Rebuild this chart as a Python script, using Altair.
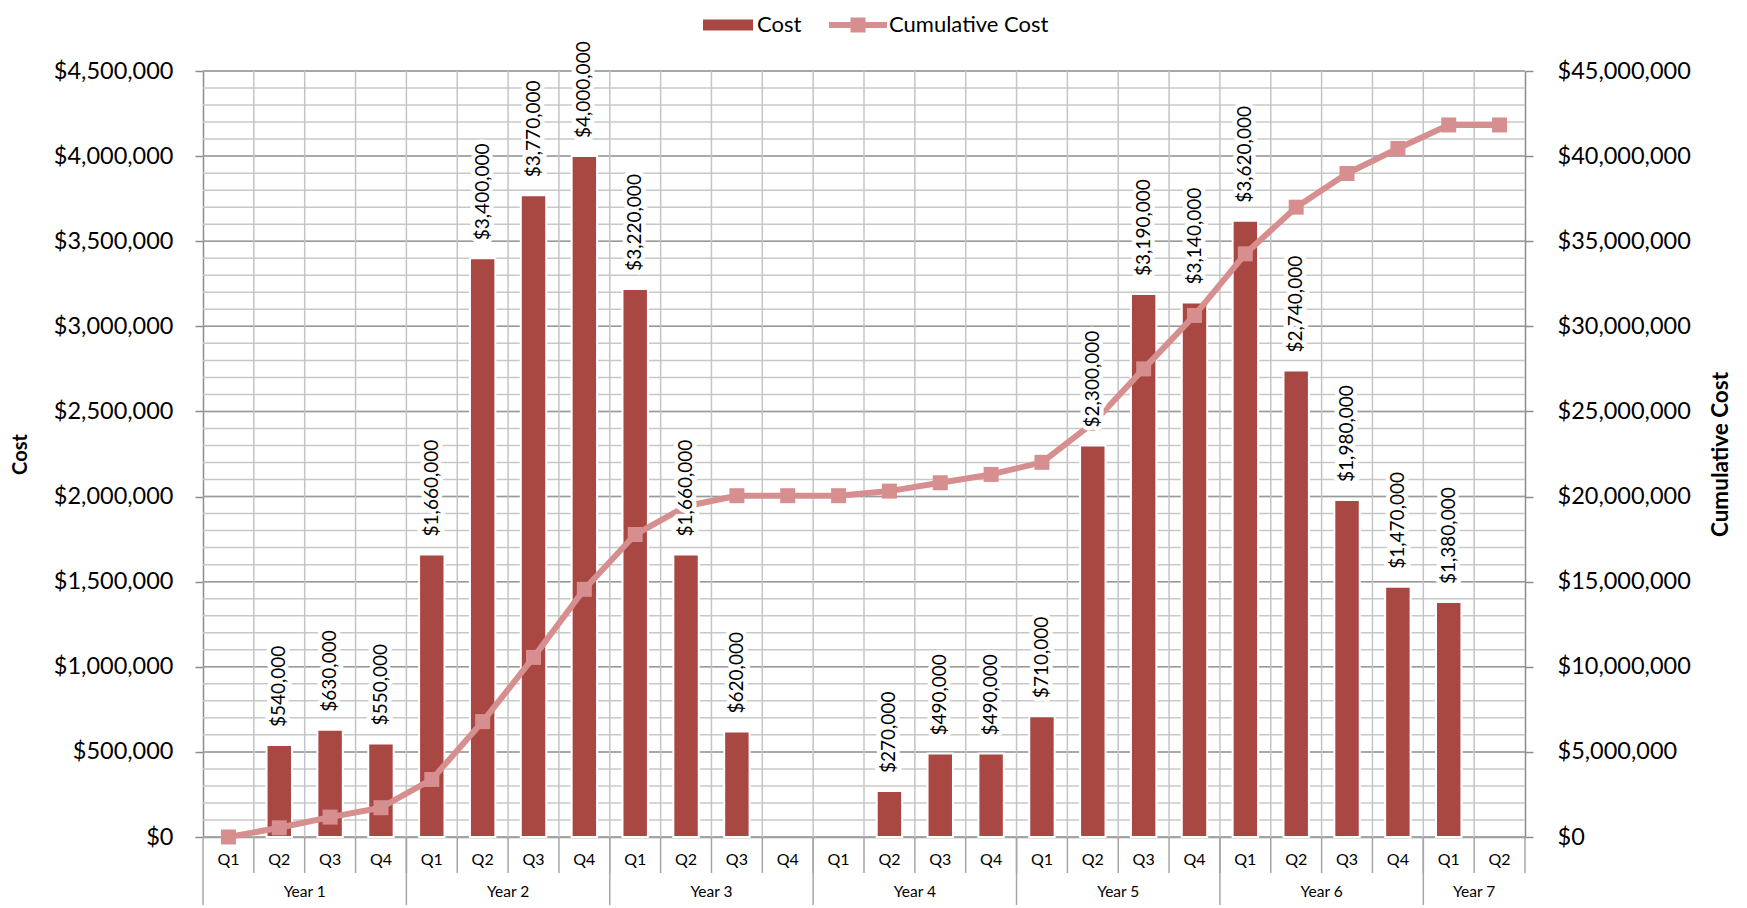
import altair as alt
import pandas as pd

# ---------------- data ----------------
years = (["Year 1"] * 4 + ["Year 2"] * 4 + ["Year 3"] * 4 + ["Year 4"] * 4
         + ["Year 5"] * 4 + ["Year 6"] * 4 + ["Year 7"] * 2)
quarters = ["Q1", "Q2", "Q3", "Q4"] * 6 + ["Q1", "Q2"]
cost = [0, 540000, 630000, 550000,
        1660000, 3400000, 3770000, 4000000,
        3220000, 1660000, 620000, 0,
        0, 270000, 490000, 490000,
        710000, 2300000, 3190000, 3140000,
        3620000, 2740000, 1980000, 1470000,
        1380000, 0]
cumulative = [0, 540000, 1170000, 1720000,
              3380000, 6780000, 10550000, 14550000,
              17770000, 19430000, 20050000, 20050000,
              20050000, 20320000, 20810000, 21300000,
              22010000, 24310000, 27500000, 30640000,
              34260000, 37000000, 38980000, 40450000,
              41830000, 41830000]
year_names = ["Year 1", "Year 2", "Year 3", "Year 4", "Year 5", "Year 6", "Year 7"]
year_center_quarter = ["Q3", "Q3", "Q3", "Q3", "Q3", "Q3", "Q2"]

left_ticks = [0, 500000, 1000000, 1500000, 2000000, 2500000, 3000000, 3500000, 4000000, 4500000]
right_ticks = [0, 5000000, 10000000, 15000000, 20000000, 25000000, 30000000, 35000000, 40000000, 45000000]
minor_grid = [i * 100000 for i in range(46)]

# ---------------- tables ----------------
periods = [f"{y}|{q}" for y, q in zip(years, quarters)]
df = pd.DataFrame({"period": periods, "year": years, "quarter": quarters,
                   "cost": cost, "cumulative": cumulative})
df_bars = df[df["cost"] > 0]
df_sep = df.iloc[1:]
df_ysep = df[df["quarter"] == "Q1"]
df_end = df.iloc[[-1]]
df_years = pd.DataFrame({"year": year_names,
                         "anchor": [f"{y}|{q}" for y, q in zip(year_names, year_center_quarter)]})
df_minor = pd.DataFrame({"v": minor_grid})
df_major = pd.DataFrame({"v": left_ticks})

W, H = 1322, 766
BAR = "#a94743"
PINK = "#d68f8e"
FONT = "Lato"

xscale = alt.Scale(paddingInner=0, paddingOuter=0)
yscale_l = alt.Scale(domain=[0, 4500000], nice=False)
yscale_r = alt.Scale(domain=[0, 45000000], nice=False)

x_axis = alt.Axis(title=None, labelExpr="split(datum.label, '|')[1]", labelAngle=0,
                  labelFontSize=16, labelColor="#000", labelFont=FONT, ticks=False,
                  tickSize=0, labelPadding=14, domainColor="#8c8c8c", domainWidth=1.5,
                  grid=False)


def X(field="period", bp=None):
    kw = {}
    if bp is not None:
        kw["bandPosition"] = bp
    return alt.X(f"{field}:N", sort=periods, scale=xscale, axis=x_axis, **kw)


yl_axis = alt.Axis(title="Cost", values=left_ticks, format="$,.0f", labelFontSize=23.5,
                   labelFont=FONT, labelColor="#000", tickSize=8, tickColor="#8c8c8c",
                   tickWidth=1.5, domainColor="#8c8c8c", domainWidth=1.5, labelPadding=22,
                   grid=False, titleFontSize=20, titleFont=FONT, titleFontWeight="bold",
                   titleColor="#000", titleAngle=270, titleX=-183, titleY=H / 2,
                   titleAlign="center", titleBaseline="middle")
yr_axis = alt.Axis(title="Cumulative Cost", orient="right", values=right_ticks,
                   format="$,.0f", labelFontSize=23.5, labelFont=FONT, labelColor="#000",
                   tickSize=8, tickColor="#8c8c8c", tickWidth=1.5, domainColor="#8c8c8c",
                   domainWidth=1.5, labelPadding=24, grid=False, titleFontSize=22.5,
                   titleFont=FONT, titleFontWeight="bold", titleColor="#000",
                   titleAngle=270, titleX=195, titleY=H / 2, titleAlign="center",
                   titleBaseline="middle")

# grid
hminor = alt.Chart(df_minor).mark_rule(color="#c8c8c8", strokeWidth=1.5).encode(
    y=alt.Y("v:Q", scale=yscale_l, axis=yl_axis))
hmajor = alt.Chart(df_major).mark_rule(color="#9a9a9a", strokeWidth=1.5).encode(
    y=alt.Y("v:Q", scale=yscale_l, axis=yl_axis))
vgrid = alt.Chart(df_sep).mark_rule(color="#c4c4c4", strokeWidth=1.5).encode(
    x=X(bp=0), y=alt.value(0), y2=alt.value(H))

# bars
bars = alt.Chart(df_bars).transform_calculate(series="'Cost'").mark_bar(
    width={"band": 0.5}, stroke="white", strokeWidth=2).encode(
    x=X(),
    y=alt.Y("cost:Q", scale=yscale_l, axis=yl_axis),
    fill=alt.Fill("series:N", scale=alt.Scale(domain=["Cost"], range=[BAR]),
                  legend=alt.Legend(title=None, orient="none", legendX=514, legendY=-57,
                                    symbolType="M-2.5,-0.55H2.5V0.55H-2.5Z", symbolSize=400,
                                    symbolStrokeWidth=0, labelFontSize=22, labelFont=FONT,
                                    labelColor="#000", labelOffset=18, padding=0)))

# category separators below axis
qsep = alt.Chart(df_sep).mark_rule(color="#a6a6a6", strokeWidth=1.5).encode(
    x=X(bp=0), y=alt.value(H), y2=alt.value(H + 36))
ysep = alt.Chart(df_ysep).mark_rule(color="#a6a6a6", strokeWidth=1.5).encode(
    x=X(bp=0), y=alt.value(H), y2=alt.value(H + 90))
endsep = alt.Chart(df_end).mark_rule(color="#a6a6a6", strokeWidth=1.5).encode(
    x=X(bp=1), y=alt.value(H), y2=alt.value(H + 36))
ylabels = alt.Chart(df_years).mark_text(fontSize=15.5, font=FONT, color="#000",
                                        baseline="middle").encode(
    x=X("anchor", bp=0), y=alt.value(H + 55), text="year:N")

left = alt.layer(hminor, hmajor, vgrid, bars, qsep, ysep, endsep, ylabels)

line = alt.Chart(df).transform_calculate(series="'Cumulative Cost'").mark_line(
    strokeWidth=6, strokeJoin="round").encode(
    x=X(),
    y=alt.Y("cumulative:Q", scale=yscale_r, axis=yr_axis),
    stroke=alt.Stroke("series:N", scale=alt.Scale(domain=["Cumulative Cost"], range=[PINK]),
                      legend=alt.Legend(title=None, orient="none", legendX=644, legendY=-57,
                                        symbolType="M-2.9,-0.3H2.9V0.3H-2.9Z M-0.75,-0.75H0.75V0.75H-0.75Z",
                                        symbolSize=400, symbolFillColor=PINK,
                                        symbolStrokeWidth=0, labelFontSize=22,
                                        labelFont=FONT, labelColor="#000", labelOffset=20,
                                        padding=0)))
points = alt.Chart(df).mark_point(shape="square", filled=True, size=225, color=PINK,
                                  opacity=1).encode(
    x=X(), y=alt.Y("cumulative:Q", scale=yscale_r, axis=yr_axis))

right = alt.layer(line, points)

# value labels (drawn on top, same fixed domain as the left axis)
label_enc = dict(x=X(), y=alt.Y("cost:Q", scale=yscale_l, axis=None),
                 text=alt.Text("cost:Q", format="$,.0f"))
halo = alt.Chart(df_bars).mark_text(angle=270, align="left", baseline="middle", dx=18,
                                    fontSize=19, font=FONT, stroke="white", strokeWidth=9,
                                    strokeJoin="round", fill="white").encode(**label_enc)
labels = alt.Chart(df_bars).mark_text(angle=270, align="left", baseline="middle", dx=18,
                                      fontSize=19, font=FONT, color="#000").encode(**label_enc)
top = alt.layer(halo, labels)

chart = alt.layer(left, right, top).resolve_scale(y="independent").properties(
    width=W, height=H,
    autosize=alt.AutoSizeParams(type="none"),
    padding={"left": 195, "top": 63, "right": 206, "bottom": 68},
).configure_view(stroke=None).configure(font=FONT)

chart.save("out.html", embed_options={"renderer": "svg", "actions": False})
